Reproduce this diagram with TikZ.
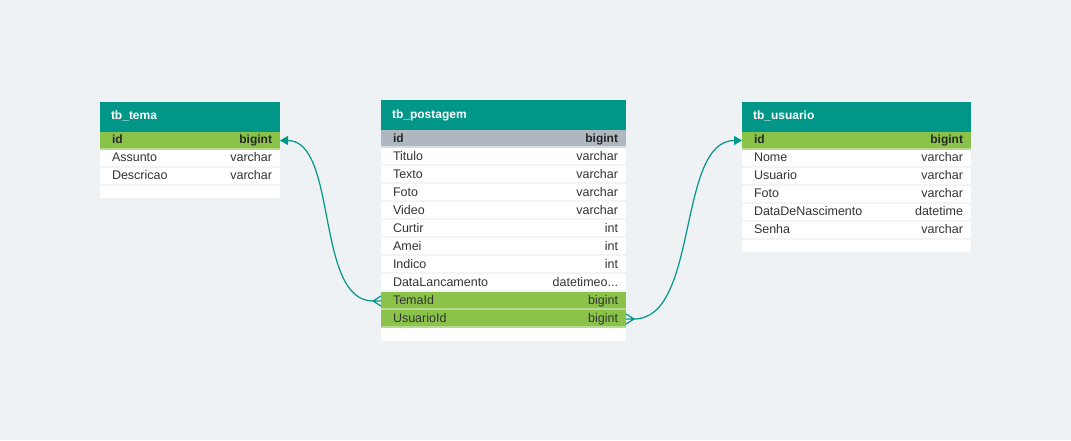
\documentclass[tikz,border=0pt]{standalone}
\usepackage{fontspec}
\setmainfont{Liberation Sans}
\usetikzlibrary{arrows.meta}
\definecolor{canvas}{RGB}{239,242,245}
\definecolor{head}{RGB}{0,150,136}
\definecolor{keygreen}{RGB}{139,195,74}
\definecolor{keyline}{RGB}{182,218,142}
\definecolor{pkgray}{RGB}{176,184,191}
\definecolor{pkline}{RGB}{216,220,224}
\definecolor{rowline}{RGB}{243,244,246}
\definecolor{ink}{RGB}{51,51,51}
\newcommand{\fld}[2]{\hspace*{12pt}#1\hfill#2\hspace*{8pt}}

\begin{document}
\begin{tikzpicture}[x=1pt,y=-1pt,
  sepline/.style={path picture={\fill[#1] (path picture bounding box.south west) rectangle ([yshift=2pt]path picture bounding box.south east);}},
  hdr/.style={anchor=north west,fill=head,text=white,inner sep=0pt,outer sep=0pt,minimum height=30pt,text width=#1,align=left,font=\bfseries\fontsize{12}{14}\selectfont,text height=9pt,text depth=3pt},
  row/.style={anchor=north west,fill=white,text=ink,inner sep=0pt,outer sep=0pt,minimum height=18pt,text width=#1,align=left,font=\fontsize{12.5}{14}\selectfont,text height=9pt,text depth=3pt,sepline=rowline},
  pk/.style={row=#1,fill=keygreen,text=black!85,font=\bfseries\fontsize{12}{14}\selectfont,sepline=keyline},
  pkg/.style={pk=#1,fill=pkgray,sepline=pkline},
  fk/.style={row=#1,fill=keygreen,sepline=keyline},
  pad/.style={row=#1,minimum height=12.5pt,sepline=white},
  rel/.style={draw=head,line width=1.2pt}]
  \fill[canvas] (0,0) rectangle (1071,440);
  % tb_tema
  \node[hdr=180] (tema) at (100,101.5) {\hspace*{11pt}tb\_tema};
  \node[pk=180] (temaId) at (tema.south west) {\fld{id}{bigint}};
  \node[row=180] (temaAssunto) at (temaId.south west) {\fld{Assunto}{varchar}};
  \node[row=180] (temaDescricao) at (temaAssunto.south west) {\fld{Descricao}{varchar}};
  \node[pad=180] (temaEnd) at (temaDescricao.south west) {};
  % tb_postagem
  \node[hdr=245] (post) at (381,100) {\hspace*{11pt}tb\_postagem};
  \node[pkg=245] (postId) at (post.south west) {\fld{id}{bigint}};
  \node[row=245] (postTitulo) at (postId.south west) {\fld{Titulo}{varchar}};
  \node[row=245] (postTexto) at (postTitulo.south west) {\fld{Texto}{varchar}};
  \node[row=245] (postFoto) at (postTexto.south west) {\fld{Foto}{varchar}};
  \node[row=245] (postVideo) at (postFoto.south west) {\fld{Video}{varchar}};
  \node[row=245] (postCurtir) at (postVideo.south west) {\fld{Curtir}{int}};
  \node[row=245] (postAmei) at (postCurtir.south west) {\fld{Amei}{int}};
  \node[row=245] (postIndico) at (postAmei.south west) {\fld{Indico}{int}};
  \node[row=245] (postData) at (postIndico.south west) {\fld{DataLancamento}{datetimeo...}};
  \node[fk=245] (postTemaId) at (postData.south west) {\fld{TemaId}{bigint}};
  \node[fk=245] (postUsuarioId) at (postTemaId.south west) {\fld{UsuarioId}{bigint}};
  \node[pad=245] (postEnd) at (postUsuarioId.south west) {};
  % tb_usuario
  \node[hdr=229] (user) at (742,101.5) {\hspace*{11pt}tb\_usuario};
  \node[pk=229] (userId) at (user.south west) {\fld{id}{bigint}};
  \node[row=229] (userNome) at (userId.south west) {\fld{Nome}{varchar}};
  \node[row=229] (userUsuario) at (userNome.south west) {\fld{Usuario}{varchar}};
  \node[row=229] (userFoto) at (userUsuario.south west) {\fld{Foto}{varchar}};
  \node[row=229] (userNasc) at (userFoto.south west) {\fld{DataDeNascimento}{datetime}};
  \node[row=229] (userSenha) at (userNasc.south west) {\fld{Senha}{varchar}};
  \node[pad=229] (userEnd) at (userSenha.south west) {};
  % relations
  \coordinate (crowTema) at ([xshift=-8pt]postTemaId.west);
  \coordinate (crowUser) at ([xshift=8pt]postUsuarioId.east);
  \draw[rel] (crowTema) -- ([yshift=5pt]postTemaId.west) (crowTema) -- (postTemaId.west) (crowTema) -- ([yshift=-5pt]postTemaId.west);
  \draw[rel] (crowUser) -- ([yshift=5pt]postUsuarioId.east) (crowUser) -- (postUsuarioId.east) (crowUser) -- ([yshift=-5pt]postUsuarioId.east);
  \draw[rel,-{Triangle[length=8pt,width=9pt]}] (crowTema) to[out=180,in=0,looseness=.8] (temaId.east);
  \draw[rel,-{Triangle[length=8pt,width=9pt]}] (crowUser) to[out=0,in=180,looseness=.8] (userId.west);
\end{tikzpicture}
\end{document}
